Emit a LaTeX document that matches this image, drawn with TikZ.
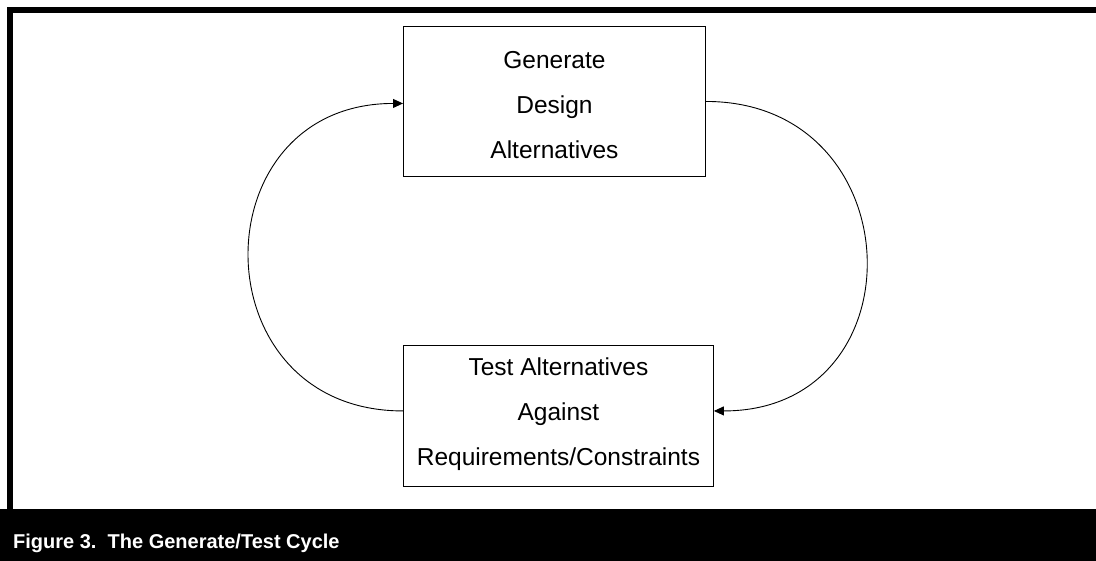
\documentclass[tikz,border=0pt]{standalone}
\usepackage{fontspec}
\setmainfont{Liberation Sans}
\usetikzlibrary{arrows.meta}
\begin{document}
\begin{tikzpicture}[x=1pt,y=-1pt,
  box/.style={draw, line width=0.9pt, align=center, font=\fontsize{24.5}{45}\selectfont, inner sep=0pt, anchor=north west},
  link/.style={line width=0.9pt, -{Triangle[length=10pt,width=9pt]}}]
\useasboundingbox (0,0) rectangle (1096,561);
\fill (7,7) rectangle (1096,13);
\fill (7,7) rectangle (13,509);
\fill (0,509) rectangle (1096,561);
\node[box, minimum width=302pt, text height=132pt, text depth=18pt] (gen) at (403,26) {Generate\\Design\\Alternatives};
\node[box, minimum width=310pt, text height=120pt, text depth=21pt] (test) at (403,345) {Test Alternatives\\Against\\Requirements/Constraints};
\draw[link] ([yshift=5pt]test.west) .. controls +(-205,0) and +(-205,0) .. ([yshift=-2pt]gen.west);
\draw[link] (gen.east) .. controls +(208,0) and +(208,0) .. ([yshift=5pt]test.east);
\node[anchor=base west, text=white, font=\bfseries\fontsize{20}{24}\selectfont, inner sep=0pt] (cap) at (13,548) {Figure 3.\ \ The Generate/Test Cycle};
\end{tikzpicture}
\end{document}
